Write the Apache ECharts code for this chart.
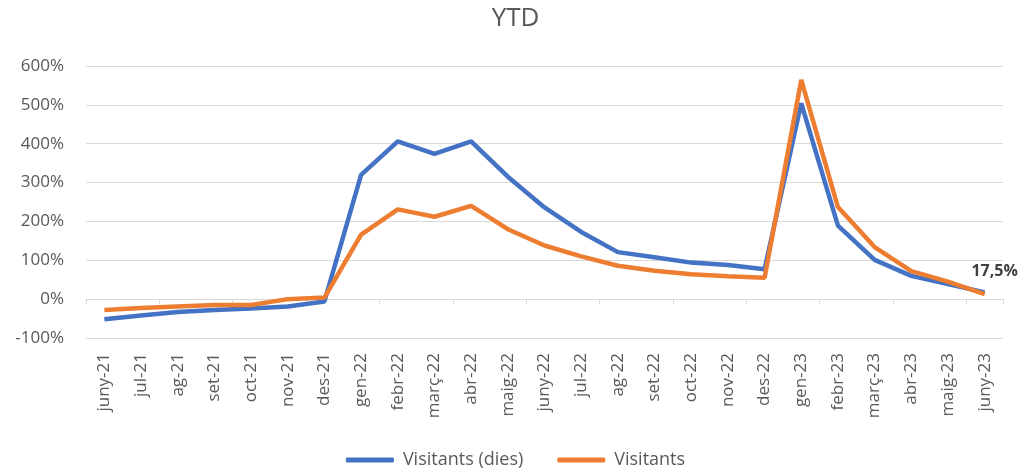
<!DOCTYPE html>
<html>
<head>
<meta charset="utf-8">
<script src="https://cdn.jsdelivr.net/npm/echarts@6/dist/echarts.min.js"></script>
<style>
html,body{margin:0;padding:0;background:#fff;}
#chart{width:1031px;height:475px;}
</style>
</head>
<body>
<div id="chart"></div>
<script>
const categories = ['juny-21','jul-21','ag-21','set-21','oct-21','nov-21','des-21','gen-22','febr-22','març-22','abr-22','maig-22','juny-22','jul-22','ag-22','set-22','oct-22','nov-22','des-22','gen-23','febr-23','març-23','abr-23','maig-23','juny-23'];
const visitantsDies = [-52,-42,-33,-28,-24,-19,-6,320,406,374,406,315,236,173,121,108,94,88,77,504,189,101,60,39,17.5];
const visitants = [-28,-23,-19,-15,-15,0,4,166,231,212,240,180,138,110,86,73,64,59,55,564,237,134,72,45,13];
const yTicks = [-100,0,100,200,300,400,500,600];
const seriesNames = ['Visitants (dies)','Visitants'];
const lastLabel = '17,5%';

const chart = echarts.init(document.getElementById('chart'));
const font = '"Open Sans", Lato, sans-serif';
chart.setOption({
  animation:false,
  title:{text:'YTD',left:'center',top:1,textStyle:{fontFamily:font,fontSize:26,fontWeight:'normal',color:'#595959'}},
  grid:{left:86,right:28,top:66,bottom:137},
  legend:{bottom:1,left:'center',itemWidth:48,itemHeight:5,itemGap:34,icon:'roundRect',
    textStyle:{fontFamily:font,fontSize:18,color:'#595959',padding:[0,0,0,4]},data:seriesNames},
  xAxis:[{
    type:'category',data:categories,position:'bottom',boundaryGap:true,
    axisLine:{show:false,onZero:false},axisTick:{show:false},
    axisLabel:{rotate:90,interval:0,margin:15,fontFamily:font,fontSize:17,color:'#595959'}
  },{
    type:'category',data:categories,position:'bottom',boundaryGap:true,
    axisLine:{show:true,onZero:true,onZeroAxisIndex:0,lineStyle:{color:'#d9d9d9',width:1}},
    axisTick:{show:true,length:5,lineStyle:{color:'#d9d9d9'}},
    axisLabel:{show:false}
  }],
  yAxis:{type:'value',min:yTicks[0],max:yTicks[yTicks.length-1],interval:100,
    axisLine:{show:false},axisTick:{show:false},
    splitLine:{lineStyle:{color:'#d9d9d9',width:1}},
    axisLabel:{formatter:v=>v+'%',margin:22,fontFamily:font,fontSize:17,color:'#595959'}},
  series:[{
    name:seriesNames[0],type:'line',
    data:visitantsDies.map((v,i)=>i===visitantsDies.length-1?{value:v,label:{show:true,formatter:lastLabel,position:'top',offset:[10,-8],fontFamily:font,fontSize:16,fontWeight:'bold',color:'#404040'}}:v),
    showSymbol:true,symbol:'circle',symbolSize:0,lineStyle:{color:'#4472C4',width:4.5},itemStyle:{color:'#4472C4'}
  },{
    name:seriesNames[1],type:'line',data:visitants,showSymbol:false,symbol:'none',
    lineStyle:{color:'#ED7D31',width:4.5},itemStyle:{color:'#ED7D31'}
  }]
});
</script>
</body>
</html>
